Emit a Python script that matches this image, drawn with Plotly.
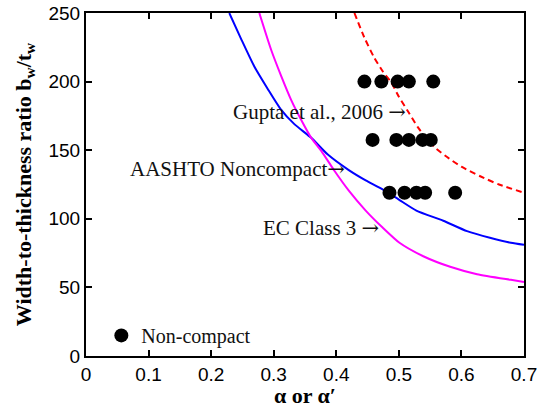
import plotly.graph_objects as go

# AASHTO Noncompact limit (blue)
aashto_x = [0.229, 0.248, 0.269, 0.290, 0.311, 0.333, 0.360, 0.386, 0.420, 0.447,
            0.474, 0.500, 0.528, 0.571, 0.609, 0.647, 0.679, 0.700]
aashto_y = [250, 231, 211, 195, 180, 169, 159, 147, 135.5, 128,
            121.5, 114, 106, 98.6, 91, 86, 82.5, 81]

# EC Class 3 limit (magenta)
ec_x = [0.277, 0.296, 0.312, 0.328, 0.344, 0.360, 0.376, 0.397, 0.420, 0.447,
        0.474, 0.501, 0.539, 0.582, 0.625, 0.679, 0.700]
ec_y = [250, 223, 204, 186.5, 172, 159, 149.5, 135, 120.5, 106,
        93.6, 82.5, 72.7, 65, 59.6, 55.5, 54]

# Gupta et al., 2006 (red dashed)
gupta_x = [0.429, 0.445, 0.460, 0.475, 0.487, 0.500, 0.515, 0.530, 0.545, 0.560,
           0.580, 0.600, 0.630, 0.660, 0.700]
gupta_y = [250, 232, 218, 207, 200, 189, 178, 167, 158, 151,
           144, 138, 131, 125, 119]

# Non-compact specimens
nc_x = [0.445, 0.472, 0.498, 0.516, 0.555,
        0.458, 0.496, 0.516, 0.538, 0.551,
        0.485, 0.509, 0.528, 0.542, 0.590]
nc_y = [200, 200, 200, 200, 200,
        157.5, 157.5, 157.5, 157.5, 157.5,
        119, 119, 119, 119, 119]

x_ticks = [0, 0.1, 0.2, 0.3, 0.4, 0.5, 0.6, 0.7]
x_ticklabels = ["0", "0.1", "0.2", "0.3", "0.4", "0.5", "0.6", "0.7"]
y_ticks = [0, 50, 100, 150, 200, 250]
y_ticklabels = ["0", "50", "100", "150", "200", "250"]

SERIF = "Liberation Serif, Times New Roman, serif"
SANS = "Liberation Sans, Arial, sans-serif"
ARROW = "<span style=\"font-family:'DejaVu Serif'\">→</span>"

fig = go.Figure()
fig.add_trace(go.Scatter(x=aashto_x, y=aashto_y, mode="lines",
                         line=dict(color="#0000FF", width=2, shape="spline", smoothing=0.6),
                         showlegend=False))
fig.add_trace(go.Scatter(x=ec_x, y=ec_y, mode="lines",
                         line=dict(color="#FF00FF", width=2, shape="spline", smoothing=0.6),
                         showlegend=False))
fig.add_trace(go.Scatter(x=gupta_x, y=gupta_y, mode="lines",
                         line=dict(color="#FF0000", width=2, dash="6px,4px",
                                   shape="spline", smoothing=0.6),
                         showlegend=False))
fig.add_trace(go.Scatter(x=nc_x, y=nc_y, mode="markers", name="Non-compact",
                         marker=dict(color="black", size=14), showlegend=True))

ann = dict(showarrow=False, font=dict(family=SERIF, size=21, color="#111"),
           xref="x", yref="y", yanchor="middle")
fig.add_annotation(x=0.515, y=178, text="Gupta et al., 2006 " + ARROW, xanchor="right", **ann)
fig.add_annotation(x=0.417, y=136.5, text="AASHTO Noncompact" + ARROW, xanchor="right", **ann)
fig.add_annotation(x=0.471, y=93, text="EC Class 3 " + ARROW, xanchor="right", **ann)

axis_common = dict(showline=True, linecolor="black", linewidth=2, mirror="ticks",
                   ticks="inside", ticklen=6, tickwidth=1.5, tickcolor="black",
                   showgrid=False, zeroline=False, automargin=False,
                   tickfont=dict(family=SANS, size=19, color="black"))

fig.update_xaxes(range=[0, 0.7], tickvals=x_ticks, ticktext=x_ticklabels,
                 title=dict(text="<b>α or α′</b>", font=dict(family=SERIF, size=22, color="black"),
                            standoff=10),
                 **axis_common)
fig.update_yaxes(range=[0, 250], tickvals=y_ticks, ticktext=y_ticklabels,
                 title=dict(text="<b>Width-to-thickness ratio b<sub>w</sub>/t<sub>w</sub></b>",
                            font=dict(family=SERIF, size=22, color="black"), standoff=11),
                 **axis_common)

fig.update_layout(
    width=545, height=408,
    margin=dict(l=86, r=21, t=13, b=52),
    paper_bgcolor="white", plot_bgcolor="white",
    legend=dict(x=0.035, y=0.06, xanchor="left", yanchor="middle",
                bgcolor="rgba(0,0,0,0)", borderwidth=0,
                font=dict(family=SERIF, size=20, color="#111")),
)

fig.write_html("out.html")
